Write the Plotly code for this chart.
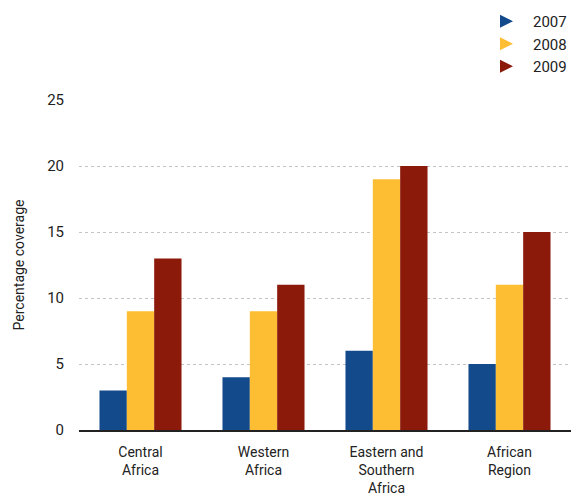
import plotly.graph_objects as go

regions = ["Central<br>Africa", "Western<br>Africa", "Eastern and<br>Southern<br>Africa", "African<br>Region"]
years = ["2007", "2008", "2009"]
coverage = {
    "2007": [3, 4, 6, 5],
    "2008": [9, 9, 19, 11],
    "2009": [13, 11, 20, 15],
}
colors = {"2007": "#124A8C", "2008": "#FDBE33", "2009": "#8C1A0B"}
y_ticks = [0, 5, 10, 15, 20, 25]

FONT = "Roboto, Arial, sans-serif"

fig = go.Figure()
for yr in years:
    fig.add_trace(go.Bar(
        x=regions, y=coverage[yr], name=yr,
        marker=dict(color=colors[yr], line=dict(width=0)),
        showlegend=False,
    ))
    # legend entry with arrow-style marker
    fig.add_trace(go.Scatter(
        x=[None], y=[None], mode="markers", name=yr,
        marker=dict(symbol="arrow-right", size=13, color=colors[yr]),
    ))

fig.update_layout(
    width=572, height=497,
    margin=dict(l=79, r=1, t=100, b=67, autoexpand=False),
    paper_bgcolor="white", plot_bgcolor="white",
    barmode="group", bargap=0.333, bargroupgap=0,
    font=dict(family=FONT, size=14, color="#222"),
    legend=dict(
        xref="container", yref="container", x=1.0, y=0.99,
        xanchor="right", yanchor="top",
        font=dict(size=15, color="#222"),
        itemwidth=30, tracegroupgap=0,
        bgcolor="rgba(0,0,0,0)",
    ),
    xaxis=dict(
        showline=True, linecolor="#222", linewidth=2,
        showgrid=False, ticks="", tickfont=dict(size=14),
        ticklabelstandoff=8,
        range=[-0.5, 3.5],
    ),
    yaxis=dict(
        range=[0, 25], tickvals=y_ticks,
        showgrid=True, gridcolor="#C4C4C4", griddash="dot", gridwidth=1,
        zeroline=False, showline=False, ticks="",
        ticklabelstandoff=14, tickfont=dict(size=15),
        title=dict(text="Percentage coverage", font=dict(size=14), standoff=19),
    ),
)

fig.write_html("out.html")
